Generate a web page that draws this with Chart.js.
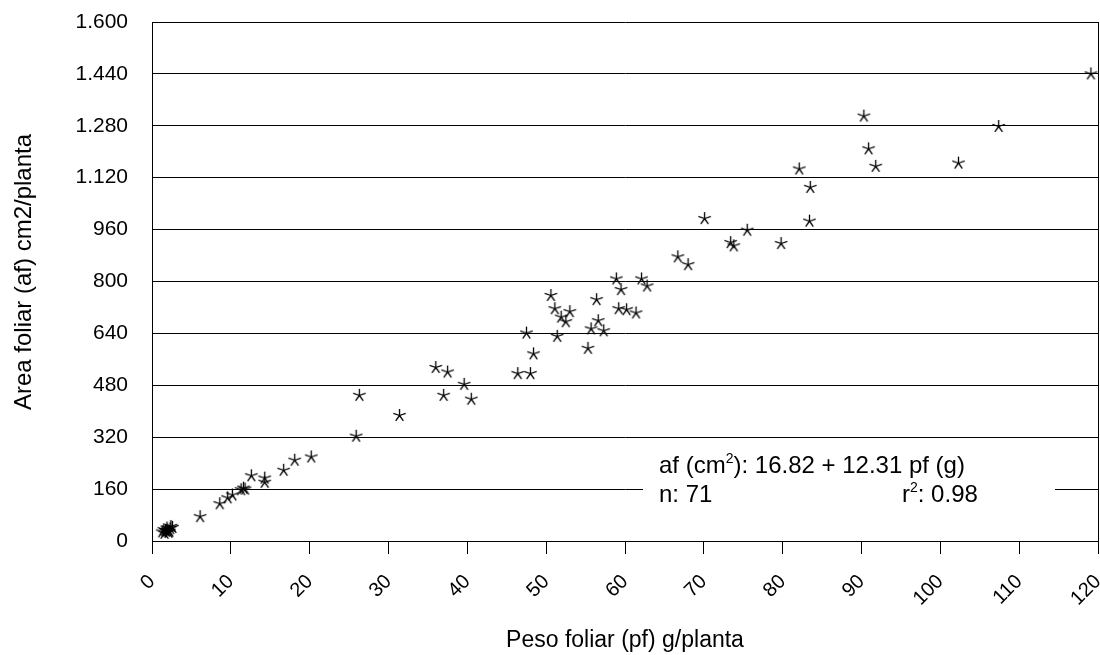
<!DOCTYPE html>
<html>
<head>
<meta charset="utf-8">
<script src="https://cdn.jsdelivr.net/npm/chart.js@4/dist/chart.umd.min.js"></script>
<style>
  html, body { margin: 0; padding: 0; background: #fff; overflow: hidden; }
  #wrap { width: 1106px; height: 655px; }
</style>
</head>
<body>
<div id="wrap"><canvas id="areaChart" width="1106" height="655"></canvas></div>
<script>
// peso foliar (g/planta) and area foliar (cm2/planta)
const pesoFoliar = [
  1.3, 1.5, 1.6, 1.8, 1.9, 2.0, 2.1, 2.3, 2.4, 2.6, 1.7, 2.2,
  6.1, 8.6, 9.6, 10.2, 11.3, 11.6, 11.8, 12.6, 14.3, 14.3, 16.7, 18.1, 20.2,
  25.9, 26.3, 31.4, 36.0, 37.5, 37.0, 39.6, 40.5,
  46.4, 48.0, 48.4, 47.5, 50.6, 51.1, 51.9, 53.0, 52.5, 51.4,
  55.3, 55.7, 56.4, 56.6, 57.3, 58.9, 59.5, 59.2, 60.2, 61.4, 62.1, 62.8,
  66.7, 68.0, 70.1, 73.4, 73.8, 75.5, 79.8,
  82.1, 83.5, 83.4, 90.3, 90.9, 91.8, 102.3, 107.4, 119.1
];
const areaFoliar = [
  28, 35, 24, 30, 40, 33, 27, 38, 45, 42, 32, 30,
  75, 115, 133, 142, 158, 163, 160, 201, 194, 181, 218, 249, 259,
  323, 449, 387, 535, 521, 449, 483, 437,
  516, 516, 577, 641, 757, 716, 690, 707, 676, 631,
  594, 654, 744, 679, 648, 808, 775, 716, 713, 703, 808, 786,
  876, 852, 994, 920, 910, 958, 917,
  1147, 1090, 986, 1310, 1209, 1155, 1165, 1278, 1440
];
const xTicks = [0, 10, 20, 30, 40, 50, 60, 70, 80, 90, 100, 110, 120];
const yTicks = [0, 160, 320, 480, 640, 800, 960, 1120, 1280, 1440, 1600];

const FONT = "'Liberation Sans', Arial, sans-serif";

// asterisk marker like the spreadsheet one
function makeStar() {
  const c = document.createElement("canvas");
  c.width = 15;
  c.height = 15;
  const g = c.getContext("2d");
  g.strokeStyle = "#000";
  g.lineWidth = 1.3;
  g.beginPath();
  for (let i = 0; i < 5; i++) {
    const a = -Math.PI / 2 + i * 2 * Math.PI / 5;
    g.moveTo(7.5, 7.5);
    g.lineTo(7.5 + 6.5 * Math.cos(a), 7.5 + 6.5 * Math.sin(a));
  }
  g.stroke();
  return c;
}

// writes text with superscripts, parts = [[text, isSup], ...]
function supText(ctx, parts, x, y, size) {
  parts.forEach(([t, sup]) => {
    ctx.font = (sup ? Math.round(size * 0.6) : size) + "px " + FONT;
    ctx.fillText(t, x, sup ? y - size * 0.4 : y);
    x += ctx.measureText(t).width;
  });
}

const boxPlugin = {
  id: "boxPlugin",
  afterDatasetsDraw(chart) {
    const ctx = chart.ctx;
    const a = chart.chartArea;
    ctx.save();
    // right frame line
    ctx.strokeStyle = "#000";
    ctx.lineWidth = 1;
    ctx.beginPath();
    ctx.moveTo(Math.round(a.right) + 0.5, a.top);
    ctx.lineTo(Math.round(a.right) + 0.5, a.bottom);
    ctx.stroke();
    // regression text box
    ctx.fillStyle = "#fff";
    ctx.fillRect(643, 450, 412, 60);
    ctx.fillStyle = "#000";
    ctx.textBaseline = "alphabetic";
    supText(ctx, [["af (cm", 0], ["2", 1], ["): 16.82 + 12.31 pf (g)", 0]], 659, 473, 24);
    supText(ctx, [["n: 71", 0]], 659, 502, 24);
    supText(ctx, [["r", 0], ["2", 1], [": 0.98", 0]], 902, 502, 24);
    // y axis title
    ctx.translate(24, 272);
    ctx.rotate(-Math.PI / 2);
    ctx.textAlign = "center";
    ctx.textBaseline = "middle";
    ctx.font = "24px " + FONT;
    ctx.fillText("Area foliar (af) cm2/planta", 0, 0);
    ctx.restore();
  },
};

document.addEventListener("DOMContentLoaded", function () {
  const points = pesoFoliar.map((v, i) => ({ x: v, y: areaFoliar[i] }));
  const star = makeStar();
  const ctx = document.getElementById("areaChart").getContext("2d");
  const chart = new Chart(ctx, {
    type: "scatter",
    data: {
      datasets: [
        {
          label: "af",
          data: points,
          pointStyle: star,
          pointRadius: 7,
          pointHoverRadius: 7,
        },
      ],
    },
    options: {
      responsive: false,
      animation: false,
      layout: { padding: { top: 22, right: 0, left: 0, bottom: 0 } },
      plugins: {
        legend: { display: false },
        tooltip: { enabled: false },
      },
      scales: {
        x: {
          type: "linear",
          min: 0,
          max: 120,
          afterBuildTicks: (s) => { s.ticks = xTicks.map((v) => ({ value: v })); },
          afterFit: (s) => {
            s.height = 114;
            s.paddingLeft = 0;
            s.paddingRight = 0;
          },
          border: { color: "#000", width: 1 },
          grid: { drawOnChartArea: false, drawTicks: true, tickLength: 13, color: "#000" },
          ticks: {
            color: "#000",
            font: { family: FONT, size: 20 },
            minRotation: 45,
            maxRotation: 45,
            padding: 16,
          },
          title: {
            display: true,
            text: "Peso foliar (pf) g/planta",
            color: "#000",
            font: { family: FONT, size: 23 },
            padding: { top: 4, bottom: 1 },
          },
        },
        y: {
          type: "linear",
          min: 0,
          max: 1600,
          afterBuildTicks: (s) => { s.ticks = yTicks.map((v) => ({ value: v })); },
          afterFit: (s) => {
            s.width = 152;
            s.paddingTop = 0;
            s.paddingBottom = 0;
          },
          border: { color: "#000", width: 1 },
          grid: { color: "#000", lineWidth: 1, drawTicks: false },
          ticks: {
            color: "#000",
            font: { family: FONT, size: 21 },
            padding: 24,
            callback: (v) => v.toLocaleString("de-DE"),
          },
        },
      },
    },
    plugins: [boxPlugin],
  });
});
</script>
</body>
</html>
